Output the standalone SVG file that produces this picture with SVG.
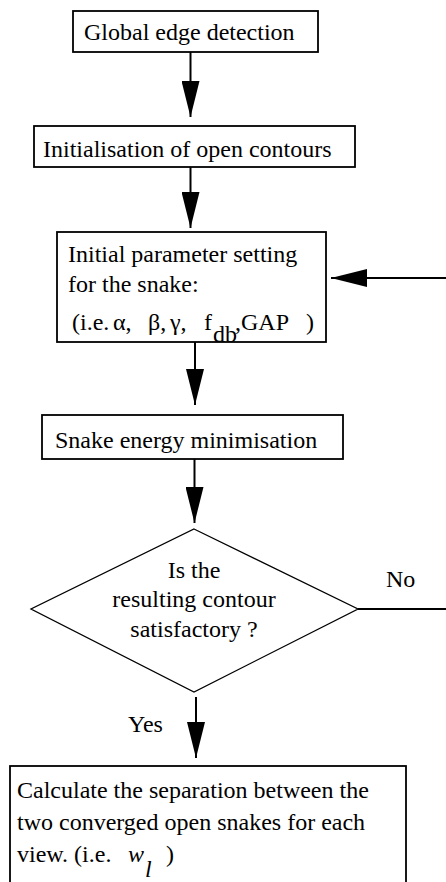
<svg xmlns="http://www.w3.org/2000/svg" width="446" height="882" viewBox="0 0 446 882">
<style>
.box{fill:#fff;stroke:#000;stroke-width:1.8}
.dia{fill:#fff;stroke:#000;stroke-width:1.3}
text{font-family:'Liberation Serif','DejaVu Serif',serif;font-size:24px;fill:#000}
.c{stroke:#000;stroke-width:2;fill:none}
.i{font-style:italic}
</style>
<defs>
<marker id="ah" viewBox="0 0 36 18" refX="36" refY="9" markerWidth="36" markerHeight="18" markerUnits="userSpaceOnUse" orient="auto">
<path d="M0,0 L36,9 L0,18 Z" fill="#000"/>
</marker>
</defs>
<g id="connectors">
<line class="c" x1="190.5" y1="52" x2="190.5" y2="117" marker-end="url(#ah)"/>
<line class="c" x1="190.5" y1="167" x2="190.5" y2="228" marker-end="url(#ah)"/>
<line class="c" x1="195" y1="342" x2="195" y2="405" marker-end="url(#ah)"/>
<line class="c" x1="194.5" y1="459" x2="194.5" y2="523" marker-end="url(#ah)"/>
<line class="c" x1="196" y1="697" x2="196" y2="758" marker-end="url(#ah)"/>
<line class="c" x1="358" y1="609" x2="446" y2="609"/>
<line class="c" x1="446" y1="278" x2="331" y2="278" marker-end="url(#ah)"/>
<text font-family="Liberation Serif" x="386" y="587">No</text>
<text font-family="Liberation Serif" x="128" y="732">Yes</text>
</g>
<g id="n1">
<rect class="box" x="73" y="11" width="245" height="41"/>
<text font-family="Liberation Serif" x="84" y="40">Global edge detection</text>
</g>
<g id="n2">
<rect class="box" x="34" y="126" width="321" height="41"/>
<text font-family="Liberation Serif" x="43" y="157">Initialisation of open contours</text>
</g>
<g id="n3">
<rect class="box" x="57" y="232" width="269" height="110"/>
<text font-family="Liberation Serif" x="68" y="262">Initial parameter setting</text>
<text font-family="Liberation Serif" x="68" y="292">for the snake:</text>
<text font-family="Liberation Serif" y="330"><tspan x="72">(i.e.</tspan><tspan x="113">α,</tspan><tspan x="148">β,</tspan><tspan x="170">γ,</tspan><tspan x="204">f</tspan><tspan x="213" y="342">db</tspan><tspan x="235" y="330">,GAP</tspan><tspan x="306">)</tspan></text>
</g>
<g id="n4">
<rect class="box" x="42" y="415" width="301" height="44"/>
<text font-family="Liberation Serif" x="55" y="448">Snake energy minimisation</text>
</g>
<g id="n5">
<polygon class="dia" points="194,529 358,609 194,692 31,609"/>
<text font-family="Liberation Serif" x="194" y="578" text-anchor="middle">Is the</text>
<text font-family="Liberation Serif" x="194" y="607" text-anchor="middle">resulting contour</text>
<text font-family="Liberation Serif" x="194" y="637" text-anchor="middle">satisfactory ?</text>
</g>
<g id="n6">
<rect class="box" x="10" y="766" width="396" height="130"/>
<text font-family="Liberation Serif" x="17" y="798">Calculate the separation between the</text>
<text font-family="Liberation Serif" x="17" y="830">two converged open snakes for each</text>
<text font-family="Liberation Serif" y="862"><tspan x="17">view. (i.e.</tspan><tspan class="i" x="128">w</tspan><tspan class="i" x="145" y="877">l</tspan><tspan x="166" y="862">)</tspan></text>
</g>
</svg>
